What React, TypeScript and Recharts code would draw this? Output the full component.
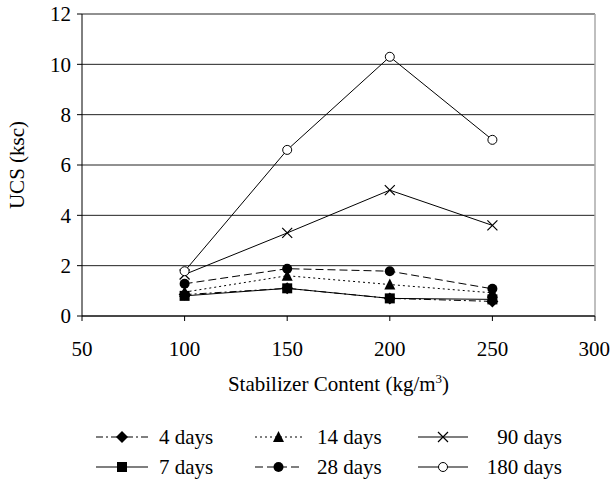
import { CartesianGrid, Line, LineChart, ReferenceLine, XAxis, YAxis } from "recharts";

// Stabilizer content (kg/m3) and UCS (ksc)
const content = [100, 150, 200, 250];
const days4 = [0.85, 1.1, 0.7, 0.58];
const days7 = [0.8, 1.1, 0.7, 0.66];
const days14 = [0.95, 1.6, 1.25, 0.92];
const days28 = [1.28, 1.88, 1.78, 1.08];
const days90 = [1.65, 3.3, 5.0, 3.6];
const days180 = [1.78, 6.6, 10.3, 7.0];

const xTicks = [50, 100, 150, 200, 250, 300];
const yTicks = [0, 2, 4, 6, 8, 10, 12];

const FONT = "Liberation Serif";
const INK = "#000";
const FS = 21;

// force the serif face on every svg text in the figure
const css = `
#ucs-fig, #ucs-fig text, #ucs-fig tspan, #ucs-fig .recharts-text, #ucs-fig .recharts-cartesian-axis-tick-value {
  font-family: "Liberation Serif", "Times New Roman", Tinos, serif !important;
}
`;

type Marker = "diamond" | "square" | "triangle" | "circle" | "cross" | "open";

const series: { key: string; name: string; dash?: string; marker: Marker }[] = [
  { key: "d4", name: "4 days", dash: "7 3 2 3", marker: "diamond" },
  { key: "d7", name: "7 days", marker: "square" },
  { key: "d14", name: "14 days", dash: "2 3", marker: "triangle" },
  { key: "d28", name: "28 days", dash: "8 4", marker: "circle" },
  { key: "d90", name: "90 days", marker: "cross" },
  { key: "d180", name: "180 days", marker: "open" },
];

const data = content.map((c, i) => ({
  x: c,
  d4: days4[i],
  d7: days7[i],
  d14: days14[i],
  d28: days28[i],
  d90: days90[i],
  d180: days180[i],
}));

function MarkerShape({ kind, cx, cy }: { kind: Marker; cx: number; cy: number }) {
  switch (kind) {
    case "diamond":
      return <path d={`M${cx},${cy - 6}L${cx + 6},${cy}L${cx},${cy + 6}L${cx - 6},${cy}Z`} fill={INK} />;
    case "square":
      return <rect x={cx - 5} y={cy - 5} width={10} height={10} fill={INK} />;
    case "triangle":
      return <path d={`M${cx},${cy - 6}L${cx + 5.5},${cy + 5}L${cx - 5.5},${cy + 5}Z`} fill={INK} />;
    case "circle":
      return <circle cx={cx} cy={cy} r={5} fill={INK} />;
    case "open":
      return <circle cx={cx} cy={cy} r={4.5} fill="#fff" stroke={INK} strokeWidth={1} />;
    case "cross":
      return (
        <path
          d={`M${cx - 5},${cy - 5}L${cx + 5},${cy + 5}M${cx - 5},${cy + 5}L${cx + 5},${cy - 5}`}
          stroke={INK}
          strokeWidth={1.2}
          fill="none"
        />
      );
  }
}

function makeDot(kind: Marker) {
  return (p: any) => <MarkerShape key={`${kind}-${p.index}`} kind={kind} cx={p.cx} cy={p.cy} />;
}

// legend is laid out as Excel did: two rows of three
const legendCols = [
  { line: [96, 148], text: 159, anchor: "start" },
  { line: [255, 302], text: 317, anchor: "start" },
  { line: [418, 468], text: 562, anchor: "end" },
];
const legendRows = [437, 467];
const legendOrder = [
  ["d4", "d14", "d90"],
  ["d7", "d28", "d180"],
];

function ChartLegend() {
  return (
    <svg width={610} height={70} style={{ position: "absolute", left: 0, top: 415 }}>
      {legendOrder.map((row, r) =>
        row.map((key, c) => {
          const s = series.find((d) => d.key === key)!;
          const col = legendCols[c];
          const y = legendRows[r] - 415;
          const mid = (col.line[0] + col.line[1]) / 2;
          return (
            <g key={key}>
              <line
                x1={col.line[0]}
                x2={col.line[1]}
                y1={y}
                y2={y}
                stroke={INK}
                strokeWidth={1.2}
                strokeDasharray={s.dash}
              />
              <MarkerShape kind={s.marker} cx={mid} cy={y} />
              <text x={col.text} y={y + 7} textAnchor={col.anchor as any} fontFamily={FONT} fontSize={FS} fill={INK}>
                {s.name}
              </text>
            </g>
          );
        })
      )}
    </svg>
  );
}

const tickStyle = { fill: INK, fontSize: FS, fontFamily: FONT };

export default function App() {
  return (
    <div
      id="ucs-fig"
      style={{ position: "fixed", left: 0, top: 0, width: 610, height: 485, background: "#fff", fontFamily: FONT }}
    >
      <style>{css}</style>
      <LineChart width={610} height={485} data={data} margin={{ top: 14, right: 15, bottom: 99, left: 0 }}>
        <CartesianGrid horizontal vertical={false} stroke="#222" strokeDasharray="0" />
        <ReferenceLine x={300} stroke="#aaa" strokeWidth={1.5} />
        <XAxis
          dataKey="x"
          type="number"
          domain={[50, 300]}
          ticks={xTicks}
          height={70}
          tickSize={5}
          tickMargin={20}
          tick={tickStyle}
          axisLine={{ stroke: INK }}
          tickLine={{ stroke: INK }}
          label={{
            content: ({ viewBox }: any) => (
              <text
                x={viewBox.x + viewBox.width / 2}
                y={viewBox.y + 75}
                textAnchor="middle"
                fontFamily={FONT}
                fontSize={FS}
                fill={INK}
              >
                Stabilizer Content (kg/m
                <tspan dy={-8} fontSize={13}>3</tspan>
                <tspan dy={8}>)</tspan>
              </text>
            ),
          }}
        />
        <YAxis
          type="number"
          domain={[0, 12]}
          ticks={yTicks}
          width={82}
          tickSize={5}
          tickMargin={6}
          tick={tickStyle}
          axisLine={{ stroke: INK }}
          tickLine={{ stroke: INK }}
          label={{
            content: ({ viewBox }: any) => {
              const x = 24;
              const y = viewBox.y + viewBox.height / 2;
              return (
                <text
                  x={x}
                  y={y}
                  transform={`rotate(-90 ${x} ${y})`}
                  textAnchor="middle"
                  fontFamily={FONT}
                  fontSize={FS}
                  fill={INK}
                >
                  UCS (ksc)
                </text>
              );
            },
          }}
        />
        {series.map((s) => (
          <Line
            key={s.key}
            dataKey={s.key}
            name={s.name}
            type="linear"
            stroke={INK}
            strokeWidth={1}
            strokeDasharray={s.dash}
            dot={makeDot(s.marker)}
            activeDot={false}
            isAnimationActive={false}
          />
        ))}
      </LineChart>
      <ChartLegend />
    </div>
  );
}
